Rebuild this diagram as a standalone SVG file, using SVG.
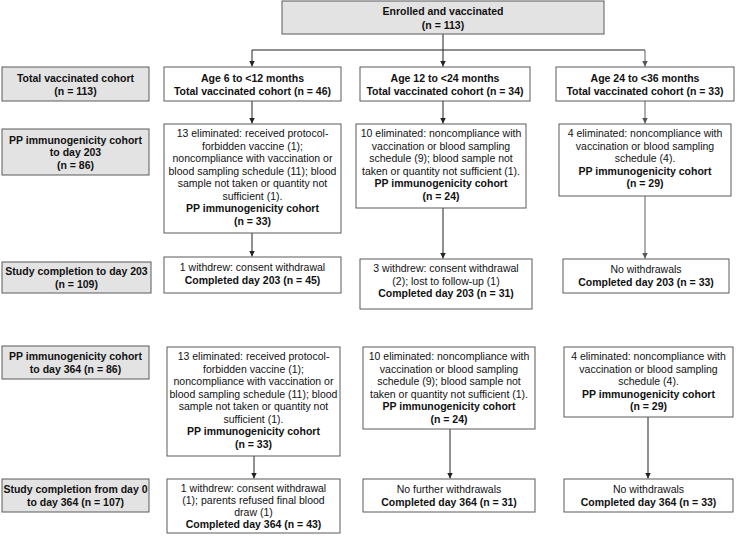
<svg xmlns="http://www.w3.org/2000/svg" width="737" height="538" viewBox="0 0 737 538">
<style>
.box{fill:#ffffff;stroke:#5a5a5a;stroke-width:1}
.gbox{fill:#e3e3e3;stroke:#5a5a5a;stroke-width:1}
text{font-family:"Liberation Sans",Arial,sans-serif;font-size:10.5px;fill:#111;text-anchor:middle}
.b{font-weight:bold}
.c{fill:none;stroke:#222;stroke-width:1}
.cg{fill:none;stroke:#7a7a7a;stroke-width:1.2}
</style>
<defs>
<marker id="ah" viewBox="0 0 8 8" refX="8" refY="4" markerWidth="6" markerHeight="6" markerUnits="userSpaceOnUse" orient="auto">
<path d="M0,0 L8,4 L0,8 z" fill="#222"/>
</marker>
<marker id="ahg" viewBox="0 0 8 8" refX="8" refY="4" markerWidth="6" markerHeight="6" markerUnits="userSpaceOnUse" orient="auto">
<path d="M0,0 L8,4 L0,8 z" fill="#555"/>
</marker>
</defs>
<rect width="737" height="538" fill="#ffffff"/>

<g id="connectors">
<path class="c" d="M443,34 V50"/>
<path class="c" d="M252,50 H645"/>
<path class="c" d="M252,50 V66.5" marker-end="url(#ah)"/>
<path class="c" d="M443,50 V66.5" marker-end="url(#ah)"/>
<path class="cg" d="M645,50 V66.5" marker-end="url(#ahg)"/>
<path class="c" d="M252,101 V123.5" marker-end="url(#ah)"/>
<path class="c" d="M443,101 V123.5" marker-end="url(#ah)"/>
<path class="cg" d="M645,101 V123.5" marker-end="url(#ahg)"/>
<path class="c" d="M252,233 V256.5" marker-end="url(#ah)"/>
<path class="c" d="M443,208 V258.5" marker-end="url(#ah)"/>
<path class="cg" d="M645,196 V258.5" marker-end="url(#ahg)"/>
<path class="c" d="M254,456 V478.5" marker-end="url(#ah)"/>
<path class="c" d="M450,429 V478.5" marker-end="url(#ah)"/>
<path class="c" d="M648,417 V478.5" marker-end="url(#ah)"/>
</g>

<g id="enrolled">
<rect class="gbox" x="282" y="1" width="322" height="33"/>
<text class="b" x="443" y="15">Enrolled and vaccinated</text>
<text class="b" x="443" y="29">(n = 113)</text>
</g>

<g id="label-total">
<rect class="gbox" x="2" y="67" width="147" height="34"/>
<text class="b" x="75.5" y="81.5">Total vaccinated cohort</text>
<text class="b" x="75.5" y="94.5">(n = 113)</text>
</g>
<g id="label-pp203">
<rect class="gbox" x="2" y="129" width="147" height="46"/>
<text class="b" x="75.5" y="143.5">PP immunogenicity cohort</text>
<text class="b" x="75.5" y="156">to day 203</text>
<text class="b" x="75.5" y="168.5">(n = 86)</text>
</g>
<g id="label-sc203">
<rect class="gbox" x="2" y="262" width="149" height="31"/>
<text class="b" x="76.5" y="275">Study completion to day 203</text>
<text class="b" x="76.5" y="288">(n = 109)</text>
</g>
<g id="label-pp364">
<rect class="gbox" x="2" y="346" width="147" height="33"/>
<text class="b" x="75.5" y="359.5">PP immunogenicity cohort</text>
<text class="b" x="75.5" y="372.5">to day 364 (n = 86)</text>
</g>
<g id="label-sc364">
<rect class="gbox" x="2" y="479" width="147" height="33"/>
<text class="b" x="75.5" y="492.5">Study completion from day 0</text>
<text class="b" x="75.5" y="505.5">to day 364 (n = 107)</text>
</g>

<g id="c1-total">
<rect class="box" x="164" y="67" width="177" height="34"/>
<text class="b" x="252.5" y="81.5">Age 6 to &lt;12 months</text>
<text class="b" x="252.5" y="94.5">Total vaccinated cohort (n = 46)</text>
</g>
<g id="c2-total">
<rect class="box" x="360" y="67" width="170" height="34"/>
<text class="b" x="445" y="81.5">Age 12 to &lt;24 months</text>
<text class="b" x="445" y="94.5">Total vaccinated cohort (n = 34)</text>
</g>
<g id="c3-total">
<rect class="box" x="556" y="67" width="178" height="34"/>
<text class="b" x="645" y="81.5">Age 24 to &lt;36 months</text>
<text class="b" x="645" y="94.5">Total vaccinated cohort (n = 33)</text>
</g>

<g id="c1-pp203">
<rect class="box" x="164" y="124" width="177" height="109"/>
<text x="252.5" y="137">13 eliminated: received protocol-</text>
<text x="252.5" y="149.5">forbidden vaccine (1);</text>
<text x="252.5" y="162">noncompliance with vaccination or</text>
<text x="252.5" y="174.5">blood sampling schedule (11); blood</text>
<text x="252.5" y="187">sample not taken or quantity not</text>
<text x="252.5" y="199.5">sufficient (1).</text>
<text class="b" x="252.5" y="212">PP immunogenicity cohort</text>
<text class="b" x="252.5" y="224.5">(n = 33)</text>
</g>
<g id="c2-pp203">
<rect class="box" x="356" y="124" width="170" height="84"/>
<text x="441" y="137">10 eliminated: noncompliance with</text>
<text x="441" y="149.5">vaccination or blood sampling</text>
<text x="441" y="162">schedule (9); blood sample not</text>
<text x="441" y="174.5">taken or quantity not sufficient (1).</text>
<text class="b" x="441" y="187">PP immunogenicity cohort</text>
<text class="b" x="441" y="199.5">(n = 24)</text>
</g>
<g id="c3-pp203">
<rect class="box" x="559" y="124" width="172" height="72"/>
<text x="645" y="137">4 eliminated: noncompliance with</text>
<text x="645" y="149.5">vaccination or blood sampling</text>
<text x="645" y="162">schedule (4).</text>
<text class="b" x="645" y="174.5">PP immunogenicity cohort</text>
<text class="b" x="645" y="187">(n = 29)</text>
</g>

<g id="c1-sc203">
<rect class="box" x="164" y="257" width="177" height="36"/>
<text x="252.5" y="271">1 withdrew: consent withdrawal</text>
<text class="b" x="252.5" y="284">Completed day 203 (n = 45)</text>
</g>
<g id="c2-sc203">
<rect class="box" x="360" y="259" width="172" height="50"/>
<text x="446" y="272">3 withdrew: consent withdrawal</text>
<text x="446" y="284.5">(2); lost to follow-up (1)</text>
<text class="b" x="446" y="297">Completed day 203 (n = 31)</text>
</g>
<g id="c3-sc203">
<rect class="box" x="563" y="259" width="166" height="34"/>
<text x="646" y="272.5">No withdrawals</text>
<text class="b" x="646" y="285.5">Completed day 203 (n = 33)</text>
</g>

<g id="c1-pp364">
<rect class="box" x="167" y="347" width="173" height="109"/>
<text x="253.5" y="360">13 eliminated: received protocol-</text>
<text x="253.5" y="372.5">forbidden vaccine (1);</text>
<text x="253.5" y="385">noncompliance with vaccination or</text>
<text x="253.5" y="397.5">blood sampling schedule (11); blood</text>
<text x="253.5" y="410">sample not taken or quantity not</text>
<text x="253.5" y="422.5">sufficient (1).</text>
<text class="b" x="253.5" y="435">PP immunogenicity cohort</text>
<text class="b" x="253.5" y="447.5">(n = 33)</text>
</g>
<g id="c2-pp364">
<rect class="box" x="363" y="347" width="172" height="82"/>
<text x="449" y="360">10 eliminated: noncompliance with</text>
<text x="449" y="372.5">vaccination or blood sampling</text>
<text x="449" y="385">schedule (9); blood sample not</text>
<text x="449" y="397.5">taken or quantity not sufficient (1).</text>
<text class="b" x="449" y="410">PP immunogenicity cohort</text>
<text class="b" x="449" y="422.5">(n = 24)</text>
</g>
<g id="c3-pp364">
<rect class="box" x="564" y="347" width="169" height="70"/>
<text x="648.5" y="360">4 eliminated: noncompliance with</text>
<text x="648.5" y="372.5">vaccination or blood sampling</text>
<text x="648.5" y="385">schedule (4).</text>
<text class="b" x="648.5" y="397.5">PP immunogenicity cohort</text>
<text class="b" x="648.5" y="410">(n = 29)</text>
</g>

<g id="c1-sc364">
<rect class="box" x="167" y="479" width="173" height="54"/>
<text x="253.5" y="491.5">1 withdrew: consent withdrawal</text>
<text x="253.5" y="503.5">(1); parents refused final blood</text>
<text x="253.5" y="515.5">draw (1)</text>
<text class="b" x="253.5" y="527.5">Completed day 364 (n = 43)</text>
</g>
<g id="c2-sc364">
<rect class="box" x="363" y="479" width="172" height="33"/>
<text x="449" y="492.5">No further withdrawals</text>
<text class="b" x="449" y="505.5">Completed day 364 (n = 31)</text>
</g>
<g id="c3-sc364">
<rect class="box" x="564" y="479" width="169" height="33"/>
<text x="648.5" y="492.5">No withdrawals</text>
<text class="b" x="648.5" y="505.5">Completed day 364 (n = 33)</text>
</g>
</svg>
